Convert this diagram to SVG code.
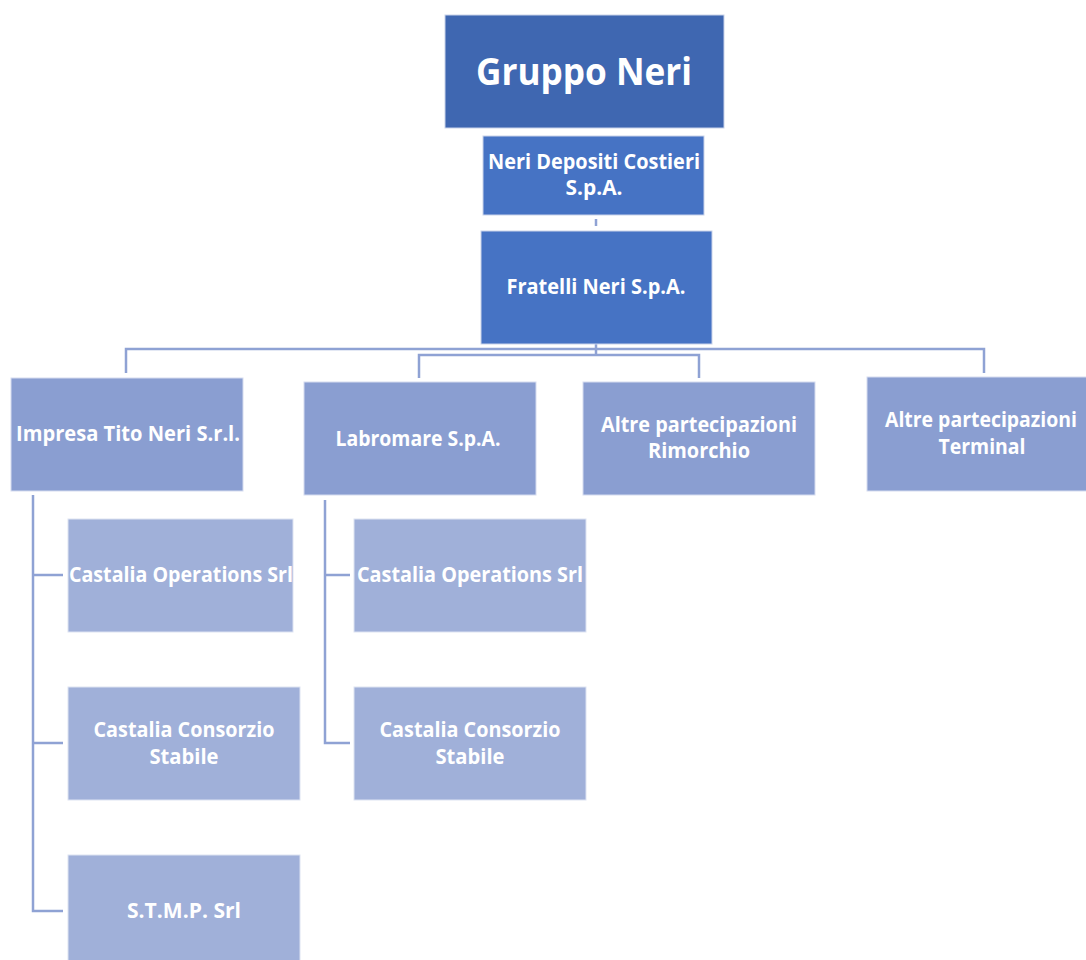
<svg xmlns="http://www.w3.org/2000/svg" width="1086" height="960" viewBox="0 0 1086 960">
<style>
.t{font-family:"Open Sans","Liberation Sans",sans-serif;font-weight:bold;fill:#fff;text-anchor:middle;font-size:21px}
.c{stroke:#8FA2D4;stroke-width:2.5;fill:none}
.l0{fill:#3F67B1;stroke:#c9d3ea;stroke-width:1}
.l1{fill:#4673C4;stroke:#c9d3ea;stroke-width:1}
.l2{fill:#8A9ED1;stroke:#d5dcef;stroke-width:1}
.l3{fill:#A0B0D9;stroke:#dde3f2;stroke-width:1}
</style>
<rect width="1086" height="960" fill="#fff"/>
<g id="connectors">
<path class="c" d="M596 219V226"/>
<path class="c" d="M596 344V355"/>
<path class="c" d="M126 373V349H984V373"/>
<path class="c" d="M419 378V355H699V378"/>
<path class="c" d="M33 495V911H63M33 575H63M33 743H63"/>
<path class="c" d="M325 500V743H350M325 575H350"/>
</g>
<g id="gruppo-neri">
<rect class="l0" x="445" y="15" width="279" height="113"/>
<text class="t" x="584" y="85" style="font-size:38px" textLength="216" lengthAdjust="spacingAndGlyphs">Gruppo Neri</text>
</g>
<g id="neri-depositi">
<rect class="l1" x="483" y="136" width="221" height="79"/>
<text class="t" x="594" y="169" textLength="212" lengthAdjust="spacingAndGlyphs">Neri Depositi Costieri</text>
<text class="t" x="594" y="195" textLength="57" lengthAdjust="spacingAndGlyphs">S.p.A.</text>
</g>
<g id="fratelli-neri">
<rect class="l1" x="481" y="231" width="231" height="113"/>
<text class="t" x="596" y="294" textLength="179" lengthAdjust="spacingAndGlyphs">Fratelli Neri S.p.A.</text>
</g>
<g id="impresa-tito-neri">
<rect class="l2" x="11" y="378" width="232" height="113"/>
<text class="t" x="128" y="441" textLength="224" lengthAdjust="spacingAndGlyphs">Impresa Tito Neri S.r.l.</text>
</g>
<g id="labromare">
<rect class="l2" x="304" y="382" width="232" height="113"/>
<text class="t" x="418" y="446" textLength="165" lengthAdjust="spacingAndGlyphs">Labromare S.p.A.</text>
</g>
<g id="altre-rimorchio">
<rect class="l2" x="583" y="382" width="232" height="113"/>
<text class="t" x="699" y="432" textLength="196" lengthAdjust="spacingAndGlyphs">Altre partecipazioni</text>
<text class="t" x="699" y="458" textLength="102" lengthAdjust="spacingAndGlyphs">Rimorchio</text>
</g>
<g id="altre-terminal">
<rect class="l2" x="867" y="377" width="232" height="114"/>
<text class="t" x="981" y="427" textLength="192" lengthAdjust="spacingAndGlyphs">Altre partecipazioni</text>
<text class="t" x="982" y="454" textLength="87" lengthAdjust="spacingAndGlyphs">Terminal</text>
</g>
<g id="castalia-operations-1">
<rect class="l3" x="68" y="519" width="225" height="113"/>
<text class="t" x="181" y="582" textLength="224" lengthAdjust="spacingAndGlyphs">Castalia Operations Srl</text>
</g>
<g id="castalia-consorzio-1">
<rect class="l3" x="68" y="687" width="232" height="113"/>
<text class="t" x="184" y="737" textLength="181" lengthAdjust="spacingAndGlyphs">Castalia Consorzio</text>
<text class="t" x="184" y="764" textLength="69" lengthAdjust="spacingAndGlyphs">Stabile</text>
</g>
<g id="stmp">
<rect class="l3" x="68" y="855" width="232" height="113"/>
<text class="t" x="184" y="918" textLength="114" lengthAdjust="spacingAndGlyphs">S.T.M.P. Srl</text>
</g>
<g id="castalia-operations-2">
<rect class="l3" x="354" y="519" width="232" height="113"/>
<text class="t" x="470" y="582" textLength="226" lengthAdjust="spacingAndGlyphs">Castalia Operations Srl</text>
</g>
<g id="castalia-consorzio-2">
<rect class="l3" x="354" y="687" width="232" height="113"/>
<text class="t" x="470" y="737" textLength="181" lengthAdjust="spacingAndGlyphs">Castalia Consorzio</text>
<text class="t" x="470" y="764" textLength="69" lengthAdjust="spacingAndGlyphs">Stabile</text>
</g>
</svg>
